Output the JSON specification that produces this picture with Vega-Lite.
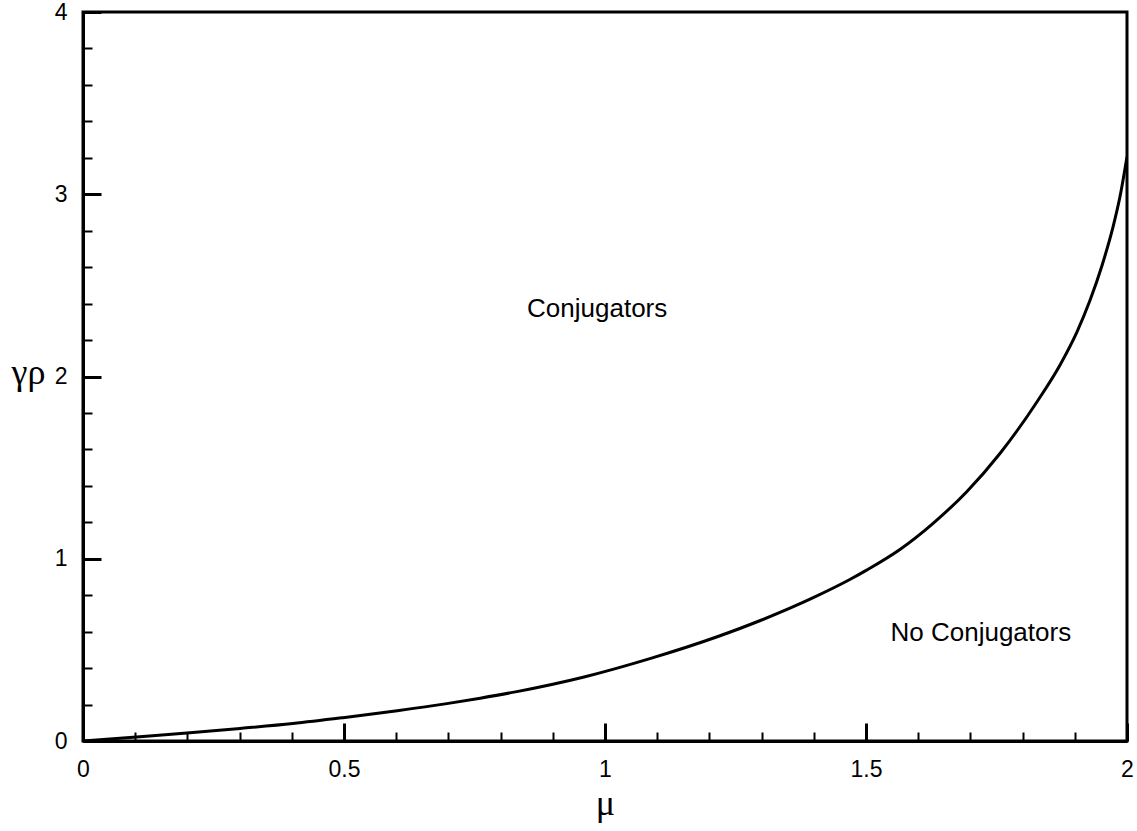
{
  "$schema": "https://vega.github.io/schema/vega-lite/v6.json",
  "width": 1044,
  "height": 729,
  "autosize": {"type": "none"},
  "padding": {"left": 83, "top": 12, "right": 10, "bottom": 90},
  "background": "white",
  "config": {
    "view": {"stroke": "black", "strokeWidth": 3},
    "axis": {"domainColor": "black", "domainWidth": 3, "tickColor": "black", "grid": false, "labelColor": "black", "titleColor": "black", "labelFont": "Liberation Sans", "labelFontSize": 23}
  },
  "datasets": {
    "curve": [
      {"mu": 0, "gr": 0},
      {"mu": 0.096, "gr": 0.021},
      {"mu": 0.199, "gr": 0.044},
      {"mu": 0.301, "gr": 0.069},
      {"mu": 0.402, "gr": 0.096},
      {"mu": 0.498, "gr": 0.128},
      {"mu": 0.602, "gr": 0.166},
      {"mu": 0.697, "gr": 0.205},
      {"mu": 0.761, "gr": 0.235},
      {"mu": 0.831, "gr": 0.271},
      {"mu": 0.958, "gr": 0.350},
      {"mu": 1.086, "gr": 0.452},
      {"mu": 1.215, "gr": 0.572},
      {"mu": 1.30, "gr": 0.664},
      {"mu": 1.40, "gr": 0.788},
      {"mu": 1.469, "gr": 0.886},
      {"mu": 1.502, "gr": 0.939},
      {"mu": 1.565, "gr": 1.051},
      {"mu": 1.628, "gr": 1.193},
      {"mu": 1.693, "gr": 1.368},
      {"mu": 1.757, "gr": 1.579},
      {"mu": 1.828, "gr": 1.863},
      {"mu": 1.872, "gr": 2.065},
      {"mu": 1.904, "gr": 2.244},
      {"mu": 1.929, "gr": 2.417},
      {"mu": 1.952, "gr": 2.608},
      {"mu": 1.973, "gr": 2.818},
      {"mu": 1.987, "gr": 2.993},
      {"mu": 2.0, "gr": 3.206}
    ],
    "labels": [
      {"mu": 0.985, "gr": 2.326, "text": "Conjugators"},
      {"mu": 1.72, "gr": 0.549, "text": "No Conjugators"}
    ]
  },
  "layer": [
    {
      "data": {"name": "curve"},
      "mark": {"type": "line", "color": "black", "strokeWidth": 3, "interpolate": "monotone", "clip": true},
      "encoding": {
        "x": {"field": "mu", "type": "quantitative", "scale": {"domain": [0, 2], "nice": false},
          "axis": {"orient": "bottom", "values": [0, 0.5, 1, 1.5, 2], "tickSize": -18, "tickWidth": 3, "labelPadding": 35, "labelExpr": "'' + datum.value", "labelFlush": false,
            "title": "μ", "titleFont": "Liberation Serif", "titleFontSize": 36, "titleFontWeight": "normal", "titleAnchor": "start", "titleAlign": "center", "titleBaseline": "alphabetic", "titleX": 522, "titleY": 73}},
        "y": {"field": "gr", "type": "quantitative", "scale": {"domain": [0, 4], "nice": false},
          "axis": {"orient": "left", "values": [0, 1, 2, 3, 4], "tickSize": -18, "tickWidth": 3, "labelPadding": 34, "labelExpr": "'' + datum.value", "labelFlush": false,
            "title": "γρ", "titleFont": "Liberation Serif", "titleFontSize": 36, "titleFontWeight": "normal", "titleAngle": 0, "titleAlign": "center", "titleBaseline": "alphabetic", "titleX": -55, "titleY": 371}}
      }
    },
    {
      "data": {"name": "labels"},
      "mark": {"type": "text", "font": "Liberation Sans", "fontSize": 26, "color": "black", "align": "center", "baseline": "alphabetic"},
      "encoding": {
        "x": {"field": "mu", "type": "quantitative",
          "axis": {"orient": "bottom", "values": [0.1, 0.2, 0.3, 0.4, 0.6, 0.7, 0.8, 0.9, 1.1, 1.2, 1.3, 1.4, 1.6, 1.7, 1.8, 1.9], "tickSize": -9, "tickWidth": 2, "labels": false, "domain": false, "title": null}},
        "y": {"field": "gr", "type": "quantitative",
          "axis": {"orient": "left", "values": [0.2, 0.4, 0.6, 0.8, 1.2, 1.4, 1.6, 1.8, 2.2, 2.4, 2.6, 2.8, 3.2, 3.4, 3.6, 3.8], "tickSize": -9, "tickWidth": 2, "labels": false, "domain": false, "title": null}},
        "text": {"field": "text", "type": "nominal"}
      }
    }
  ],
  "resolve": {"axis": {"x": "independent", "y": "independent"}}
}
